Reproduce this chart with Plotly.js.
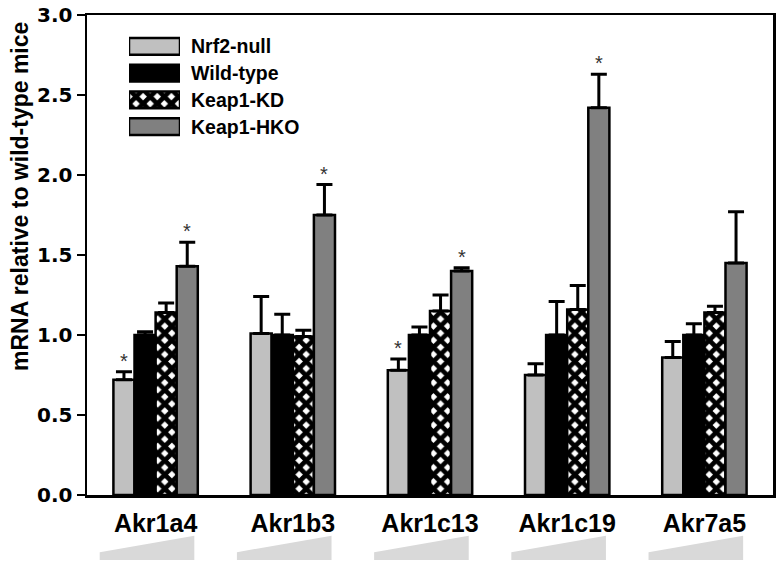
<!DOCTYPE html>
<html>
<head>
<meta charset="utf-8">
<script src="https://cdn.plot.ly/plotly-3.0.1.min.js"></script>
<style>html,body{margin:0;padding:0;background:#fff;}#chart{width:782px;height:568px;}</style>
</head>
<body>
<div id="chart"></div>
<script>
// ---- data ----
var genes = ["Akr1a4", "Akr1b3", "Akr1c13", "Akr1c19", "Akr7a5"];
var seriesNames = ["Nrf2-null", "Wild-type", "Keap1-KD", "Keap1-HKO"];
var nrf2Null   = [0.72, 1.01, 0.78, 0.75, 0.86];
var nrf2NullErr= [0.05, 0.23, 0.07, 0.07, 0.10];
var wildType   = [1.00, 1.00, 1.00, 1.00, 1.00];
var wildTypeErr= [0.02, 0.13, 0.05, 0.21, 0.07];
var keap1KD    = [1.14, 0.99, 1.15, 1.16, 1.14];
var keap1KDErr = [0.06, 0.04, 0.10, 0.15, 0.04];
var keap1HKO   = [1.43, 1.75, 1.40, 2.42, 1.45];
var keap1HKOErr= [0.15, 0.19, 0.02, 0.21, 0.32];
// significance markers (1 = '*')
var sigNrf2Null = [1, 0, 1, 0, 0];
var sigWildType = [0, 0, 0, 0, 0];
var sigKeap1KD  = [0, 0, 0, 0, 0];
var sigKeap1HKO = [1, 1, 1, 1, 0];
var yTicks = [0, 0.5, 1.0, 1.5, 2.0, 2.5, 3.0];

// ---- styles ----
var FONT = "Arial, 'Liberation Sans', sans-serif";
var fills = ["#c0c0c0", "#000000", "#ffffff", "#808080"];
var values = [nrf2Null, wildType, keap1KD, keap1HKO];
var errs = [nrf2NullErr, wildTypeErr, keap1KDErr, keap1HKOErr];
var sigs = [sigNrf2Null, sigWildType, sigKeap1KD, sigKeap1HKO];
var bargap = 0.385;

function markerFor(i) {
  var m = {color: fills[i], line: {color: "#000", width: 2.5}};
  if (i === 2) {
    m.pattern = {shape: "x", fgcolor: "#000", bgcolor: "#fff", size: 10, solidity: 0.72, fillmode: "replace"};
  }
  return m;
}

var traces = [];
for (var s = 0; s < 4; s++) {
  traces.push({
    type: "bar", x: genes, y: values[s], name: seriesNames[s],
    marker: markerFor(s),
    error_y: {type: "data", symmetric: false, array: errs[s],
              arrayminus: values[s].map(function(){return 0;}),
              color: "#000", thickness: 3, width: 8},
    showlegend: false, hoverinfo: "skip"
  });
}

// legend boxes drawn as bar traces on a small overlay axis
for (var L = 0; L < 4; L++) {
  traces.push({
    type: "bar", orientation: "h", xaxis: "x2", yaxis: "y2",
    y: [L], x: [1], width: 0.62, name: seriesNames[L],
    marker: markerFor(L),
    showlegend: false, hoverinfo: "skip"
  });
}

var annotations = [];
var groupW = 1 - bargap;
var barW = groupW / 4;
for (var s2 = 0; s2 < 4; s2++) {
  for (var g = 0; g < genes.length; g++) {
    if (sigs[s2][g]) {
      annotations.push({
        x: g + (-1.5 + s2) * barW, y: values[s2][g] + errs[s2][g],
        xref: "x", yref: "y", text: "*", showarrow: false,
        yanchor: "bottom", yshift: -2,
        font: {family: FONT, size: 20, color: "#333"}
      });
    }
  }
}
// legend labels
var legTop = 33, legBot = 140, plotTop = 15, plotBot = 495, plotH = 480;
for (var k = 0; k < 4; k++) {
  annotations.push({
    xref: "paper", yref: "y2", x: (189 - 87) / 686, y: k, xanchor: "left", yanchor: "middle",
    text: "<b>" + seriesNames[k] + "</b>", showarrow: false,
    font: {family: FONT, size: 19.5, color: "#000"}
  });
}
// y-axis title
annotations.push({
  xref: "paper", yref: "paper", x: (20 - 87) / 686, y: (plotBot - 197) / plotH,
  xanchor: "center", yanchor: "middle", textangle: -90,
  text: "<b>mRNA relative to wild-type mice</b>", showarrow: false,
  font: {family: FONT, size: 23, color: "#000"}
});

// wedges under category labels
var shapes = [];
for (var g2 = 0; g2 < genes.length; g2++) {
  var cx = (g2 + 0.5) / genes.length;
  var x0 = cx - 0.40 / 5, x1 = cx + 0.275 / 5;
  var yb = (plotBot - 559) / plotH, yt = (plotBot - 537) / plotH, yl = (plotBot - 553) / plotH;
  shapes.push({
    type: "path", xref: "paper", yref: "paper",
    path: "M" + x0 + "," + yb + " L" + x1 + "," + yb + " L" + x1 + "," + yt + " L" + x0 + "," + yl + " Z",
    fillcolor: "#d9d9d9", line: {color: "#d9d9d9", width: 2}
  });
}

var layout = {
  width: 782, height: 568,
  margin: {l: 87, r: 9, t: 15, b: 73},
  paper_bgcolor: "#fff", plot_bgcolor: "#fff",
  barmode: "group", bargap: bargap, bargroupgap: 0,
  showlegend: false,
  font: {family: FONT, color: "#000"},
  xaxis: {
    type: "category", range: [-0.5, 4.5], showgrid: false, zeroline: false,
    showline: true, mirror: true, linecolor: "#000", linewidth: 2.5,
    ticks: "", tickfont: {family: FONT, size: 25, color: "#000", weight: "bold"},
    ticklabelstandoff: 4, fixedrange: true
  },
  yaxis: {
    range: [0, 3.0], tickvals: yTicks, tickformat: ".1f",
    showgrid: false, zeroline: false,
    showline: true, mirror: true, linecolor: "#000", linewidth: 2.5,
    ticks: "outside", ticklen: 8, tickwidth: 2.5, tickcolor: "#000",
    tickfont: {family: "'DejaVu Sans', sans-serif", size: 20, color: "#000", weight: "bold"},
    fixedrange: true
  },
  xaxis2: {
    domain: [(129 - 87) / 686, (180 - 87) / 686], range: [0, 1], anchor: "y2",
    visible: false, fixedrange: true
  },
  yaxis2: {
    domain: [(plotBot - legBot) / plotH, (plotBot - legTop) / plotH], range: [3.5, -0.5],
    anchor: "x2", visible: false, fixedrange: true
  },
  annotations: annotations,
  shapes: shapes
};

Plotly.newPlot("chart", traces, layout, {displayModeBar: false, staticPlot: true});
</script>
</body>
</html>
